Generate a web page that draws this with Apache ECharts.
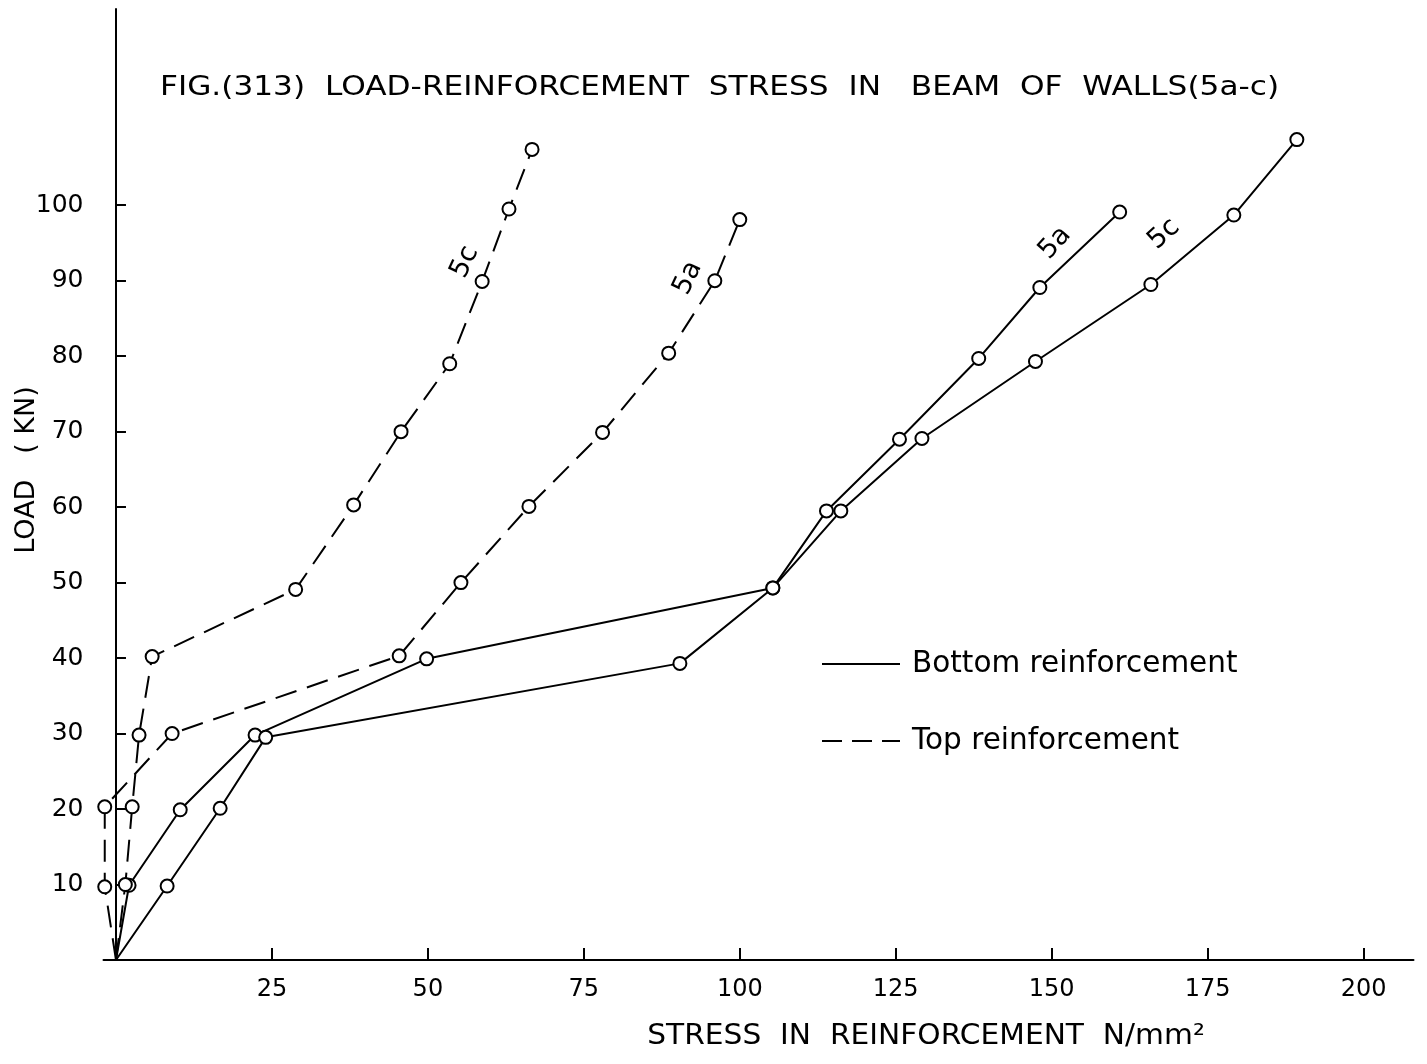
<!DOCTYPE html>
<html>
<head>
<meta charset="utf-8">
<script src="https://cdn.jsdelivr.net/npm/echarts@6/dist/echarts.min.js"></script>
<style>
  html, body { margin: 0; padding: 0; background: #fff; }
  #main { width: 1427px; height: 1064px; }
</style>
</head>
<body>
<div id="main"></div>
<script>
// stress (N/mm2) and load (KN)
var bot5aX = [0, 2.1, 10.3, 22.3, 49.8, 105.3, 113.9, 125.6, 138.3, 148.1, 160.9];
var bot5aY = [0, 9.9, 19.9, 29.8, 39.9, 49.3, 59.5, 69.0, 79.7, 89.1, 99.1];
var bot5cX = [0, 8.2, 16.7, 24.0, 90.4, 105.3, 116.2, 129.2, 147.4, 165.9, 179.2, 189.3];
var bot5cY = [0, 9.8, 20.1, 29.5, 39.3, 49.3, 59.5, 69.1, 79.3, 89.5, 98.7, 108.7];
var top5aX = [0, -1.8, -1.8, 9.0, 45.4, 55.3, 66.2, 78.0, 88.6, 96.0, 100.0];
var top5aY = [0, 9.7, 20.3, 30.0, 40.3, 50.0, 60.1, 69.9, 80.4, 90.0, 98.1];
var top5cX = [0, 1.5, 2.6, 3.7, 5.8, 28.8, 38.1, 45.7, 53.5, 58.7, 63.0, 66.7];
var top5cY = [0, 10.0, 20.3, 29.8, 40.2, 49.1, 60.3, 70.0, 79.0, 89.9, 99.5, 107.4];

var xTicks = [25, 50, 75, 100, 125, 150, 175, 200];
var yTicks = [10, 20, 30, 40, 50, 60, 70, 80, 90, 100];

var FONT = "DejaVu Sans";

function pts(xs, ys) {
  return xs.map(function (x, i) {
    // no marker at the origin
    if (i === 0) return { value: [x, ys[i]], symbol: "none" };
    return [x, ys[i]];
  });
}

function makeSeries(name, xs, ys, dashed) {
  return {
    name: name,
    type: "line",
    data: pts(xs, ys),
    clip: false,
    symbol: "emptyCircle",
    symbolSize: 13,
    itemStyle: { color: "#000", borderWidth: 2.2 },
    lineStyle: { color: "#000", width: 2, type: dashed ? [22, 11] : "solid" },
    emphasis: { disabled: true },
    z: 3,
  };
}

var myChart = echarts.init(document.getElementById("main"));
var option = {
  backgroundColor: "#fff",
  animation: false,
  grid: { left: 103.5, right: 13.5, top: 9, bottom: 104, outerBoundsMode: "none" },
  xAxis: {
    type: "value",
    min: -2,
    max: 208,
    axisLine: { lineStyle: { color: "#000", width: 2 } },
    axisTick: { show: true, inside: true, length: 12, customValues: xTicks, lineStyle: { color: "#000", width: 2 } },
    axisLabel: { customValues: xTicks, margin: 18, fontFamily: FONT, fontSize: 24, color: "#000" },
    splitLine: { show: false },
  },
  yAxis: {
    type: "value",
    min: 0,
    max: 126,
    axisLine: { onZero: true, lineStyle: { color: "#000", width: 2 } },
    axisTick: { show: true, inside: true, length: 10, customValues: yTicks, lineStyle: { color: "#000", width: 2 } },
    axisLabel: { customValues: yTicks, margin: 20, fontFamily: FONT, fontSize: 25, color: "#000" },
    splitLine: { show: false },
  },
  series: [
    makeSeries("Bottom 5a", bot5aX, bot5aY, false),
    makeSeries("Bottom 5c", bot5cX, bot5cY, false),
    makeSeries("Top 5a", top5aX, top5aY, true),
    makeSeries("Top 5c", top5cX, top5cY, true),
  ],
  graphic: [
    // title, stretched a bit like the wide-spaced lettering of the original
    { type: "text", x: 160, y: 88, scaleX: 1.2,
      style: { text: "FIG.(313)  LOAD-REINFORCEMENT  STRESS  IN   BEAM  OF  WALLS(5a-c)",
               fontFamily: FONT, fontSize: 26, fill: "#000", verticalAlign: "middle" } },
    // curve labels
    { type: "text", x: 465, y: 262, rotation: (65 * Math.PI) / 180,
      style: { text: "5c", fontFamily: FONT, fontSize: 27, fill: "#000", align: "center", verticalAlign: "middle" } },
    { type: "text", x: 688, y: 278, rotation: (65 * Math.PI) / 180,
      style: { text: "5a", fontFamily: FONT, fontSize: 27, fill: "#000", align: "center", verticalAlign: "middle" } },
    { type: "text", x: 1055, y: 243, rotation: (48 * Math.PI) / 180,
      style: { text: "5a", fontFamily: FONT, fontSize: 27, fill: "#000", align: "center", verticalAlign: "middle" } },
    { type: "text", x: 1164, y: 234, rotation: (42 * Math.PI) / 180,
      style: { text: "5c", fontFamily: FONT, fontSize: 27, fill: "#000", align: "center", verticalAlign: "middle" } },
    // legend
    { type: "line", shape: { x1: 822, y1: 664, x2: 900, y2: 664 },
      style: { stroke: "#000", lineWidth: 2 } },
    { type: "text", x: 912, y: 664,
      style: { text: "Bottom reinforcement", fontFamily: FONT, fontSize: 29.5, fill: "#000", verticalAlign: "middle" } },
    { type: "line", shape: { x1: 822, y1: 741, x2: 900, y2: 741 },
      style: { stroke: "#000", lineWidth: 2, lineDash: [20, 10] } },
    { type: "text", x: 912, y: 741,
      style: { text: "Top reinforcement", fontFamily: FONT, fontSize: 29.5, fill: "#000", verticalAlign: "middle" } },
    // axis names
    { type: "text", x: 926, y: 1037, scaleX: 1.06,
      style: { text: "STRESS  IN  REINFORCEMENT  N/mm²", fontFamily: FONT, fontSize: 28, fill: "#000", align: "center", verticalAlign: "middle" } },
    { type: "text", x: 27, y: 470, rotation: Math.PI / 2,
      style: { text: "LOAD   ( KN)", fontFamily: FONT, fontSize: 27, fill: "#000", align: "center", verticalAlign: "middle" } },
  ],
};
myChart.setOption(option);
</script>
</body>
</html>
